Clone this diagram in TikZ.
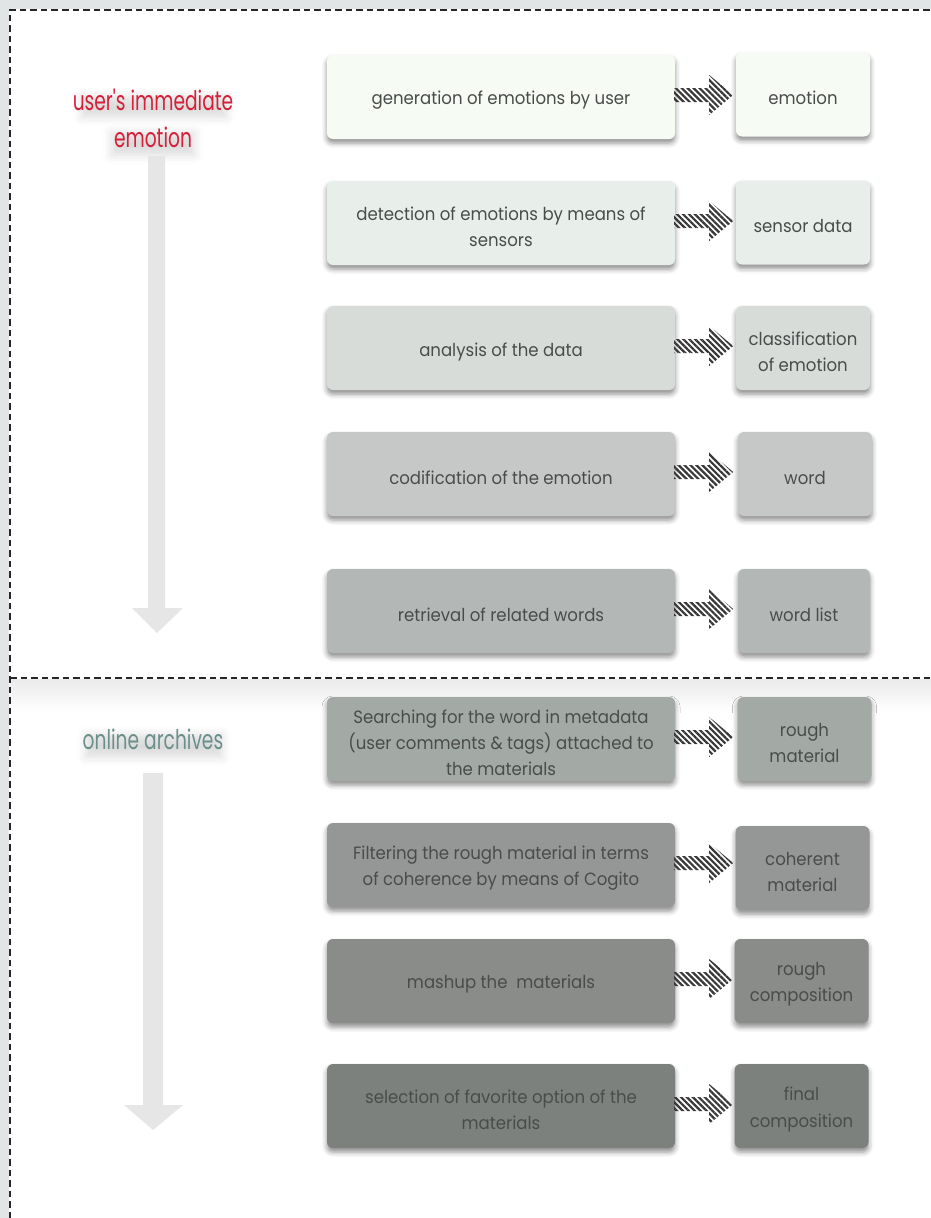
\documentclass[tikz,border=0pt]{standalone}
\usepackage{fontspec}
\usetikzlibrary{shadows.blur,patterns.meta,calc}
\newfontfamily\boxfont[FakeStretch=0.93]{Poppins}
\newfontfamily\labelfont[FakeStretch=0.69]{Poppins}

\definecolor{txt}{HTML}{4A4C4B}
\definecolor{redlabel}{HTML}{D42039}
\definecolor{teallabel}{HTML}{6B8F8B}
\definecolor{bigarrow}{HTML}{E6E6E6}
\definecolor{edge}{HTML}{E2E5E5}
\definecolor{fa}{HTML}{F6FCF4}
\definecolor{fb}{HTML}{E8EFEB}
\definecolor{fc}{HTML}{D8DCD9}
\definecolor{fd}{HTML}{C5C8C6}
\definecolor{fe}{HTML}{B3B7B5}
\definecolor{ff}{HTML}{A3AAA6}
\definecolor{fg}{HTML}{959796}
\definecolor{fh}{HTML}{8A8C89}
\definecolor{fi}{HTML}{7D817D}

\tikzset{
  stepbox/.style={rounded corners=6pt, minimum height=84pt, inner sep=0pt,
    blur shadow={shadow xshift=0pt, shadow yshift=-4pt,
      shadow blur radius=5pt, shadow opacity=45}},
  leftbox/.style={stepbox, minimum width=348pt},
  rightbox/.style={stepbox, minimum width=134pt},
  boxtext/.style={align=center, text=txt, inner sep=0pt,
    font=\boxfont\fontsize{17.8}{26}\selectfont},
  hatcharrow/.style={pattern={Lines[angle=-45,distance=4.2pt,line width=2.2pt]},
    pattern color=black!78},
  sidelabel/.style={font=\labelfont\fontsize{27}{37}\selectfont, align=center},
  labelhaze/.style={blur shadow={shadow xshift=0pt, shadow yshift=-5pt,
      shadow blur radius=9pt, shadow opacity=14}},
  frame/.style={dash pattern=on 6.5pt off 4pt, line width=1.4pt, black!85}
}

% a rounded box #1 of style #2 and fill #3 at #4, with its caption #5
\newcommand{\stepnode}[5]{%
  \node[#2, fill=#3] (#1) at #4 {};
  \node[boxtext] (#1t) at ($(#1.center)+(0,3.5)$) {#5};}

% hatched connector from the east side of #1 towards the west side of #2
\newcommand{\hatchto}[2]{%
  \path[hatcharrow] ($(#1.east)+(-1,-2)$) ++(0,-7) -- ++(35,0) -- ++(0,-13)
    -- ++(24,20) -- ++(-24,20) -- ++(0,-13) -- ++(-35,0) -- cycle;}

\begin{document}
\begin{tikzpicture}[x=1pt,y=-1pt]
\useasboundingbox (0,0) rectangle (931,1218);

% outer margin
\fill[edge] (0,0) rectangle (931,9);
\fill[edge] (0,0) rectangle (9,1218);
% soft band under the section divider
\shade[top color=black!8, bottom color=white] (10,679) rectangle (931,712);

% frame and section divider
\draw[frame] (10,1218) -- (10,10) -- (931,10);
\draw[frame] (10,678) -- (931,678);

% soft haze beneath the section labels
\path[labelhaze] (82,92) rectangle (226,112);
\path[labelhaze] (112,128) rectangle (194,150);
\path[labelhaze] (86,730) rectangle (222,752);

% section labels
\node[sidelabel, text=redlabel] (lab1) at (153,118) {user's immediate\\emotion};
\node[sidelabel, text=teallabel] (lab2) at (153,739) {online archives};

% large downward arrows
\coordinate (tip1) at (157,633);
\coordinate (tip2) at (153,1130);
\fill[bigarrow] (148,156) -- (165,156) -- (165,608) -- (183,608) -- (tip1)
  -- (132,608) -- (148,608) -- cycle;
\fill[bigarrow] (143,773) -- (163,773) -- (163,1105) -- (183,1105) -- (tip2)
  -- (124,1105) -- (143,1105) -- cycle;

% process steps
\stepnode{a1}{leftbox}{fa}{(501,97)}{generation of emotions by user}
\stepnode{a2}{leftbox}{fb}{(501,223)}{detection of emotions by means of\\sensors}
\stepnode{a3}{leftbox}{fc}{(501,348)}{analysis of the data}
\stepnode{a4}{leftbox}{fd}{(501,474)}{codification of the emotion}
\stepnode{a5}{leftbox}{fe}{(501,611)}{retrieval of related words}
\stepnode{a6}{leftbox}{ff}{(501,739)}{Searching for the word in metadata\\(user comments \& tags) attached to\\the materials}
\stepnode{a7}{leftbox}{fg}{(501,865)}{Filtering the rough material in terms\\of coherence by means of Cogito}
\stepnode{a8}{leftbox}{fh}{(501,981)}{mashup the \ materials}
\stepnode{a9}{leftbox}{fi}{(501,1106)}{selection of favorite option of the\\materials}

% results
\stepnode{b1}{rightbox}{fa}{(803,94.5)}{emotion}
\stepnode{b2}{rightbox}{fb}{(803,222.5)}{sensor data}
\stepnode{b3}{rightbox}{fc}{(803,348)}{classification\\of emotion}
\stepnode{b4}{rightbox}{fd}{(805,474)}{word}
\stepnode{b5}{rightbox, minimum width=132pt}{fe}{(804,611)}{word list}
\stepnode{b6}{rightbox}{ff}{(804.5,739)}{rough\\material}
\stepnode{b7}{rightbox}{fg}{(802.5,868)}{coherent\\material}
\stepnode{b8}{rightbox}{fh}{(801.5,981)}{rough\\composition}
\stepnode{b9}{rightbox}{fi}{(801.5,1106)}{final\\composition}

% connectors
\foreach \i in {1,...,9} { \hatchto{a\i}{b\i} }
\end{tikzpicture}
\end{document}
